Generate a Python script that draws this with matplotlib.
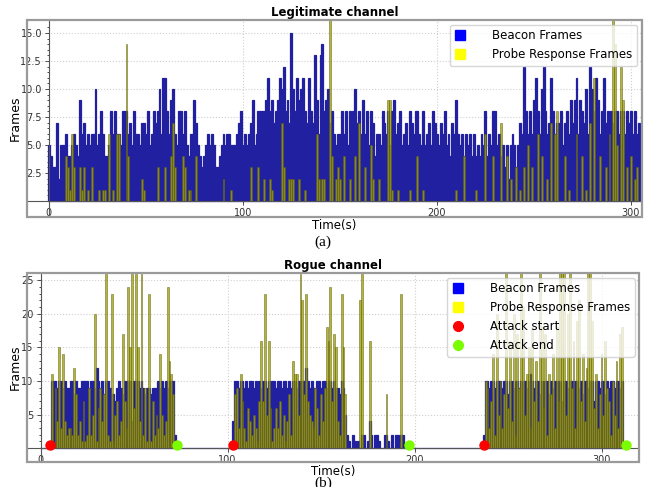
import matplotlib
matplotlib.use('Agg')
import matplotlib.pyplot as plt
from matplotlib.lines import Line2D
from matplotlib.patches import Rectangle
import numpy as np

# ---- legitimate channel (frames per second) ----
legit_beacon = [
    5,4,3,3,7,2,5,5,5,6,  4,4,5,6,5,4,9,6,7,5,  6,5,6,6,10,5,6,8,6,4,
    4,5,8,6,8,6,6,5,8,8,  8,6,7,5,8,6,6,5,7,7,  6,8,5,6,8,7,8,10,6,11,
    11,8,6,9,10,6,5,8,8,6,  8,5,4,6,6,9,7,5,4,3,  4,5,6,5,6,5,3,3,4,5,
    6,5,6,6,5,5,5,6,7,8,  5,6,5,6,7,9,5,6,8,8,  8,8,9,11,8,9,7,8,9,11,
    10,12,8,9,7,15,10,8,11,9,  10,11,8,7,11,8,7,13,9,6,  13,14,8,9,10,7,8,6,5,6,
    6,8,6,8,5,8,7,8,10,7,  8,6,9,6,8,5,8,7,4,6,  6,5,8,7,6,8,5,8,9,6,
    7,8,5,6,7,5,8,7,6,8,  8,6,5,8,5,6,7,5,8,7,  6,5,7,6,8,5,6,4,7,6,
    9,6,5,6,4,6,5,6,4,6,  4,5,4,6,5,8,4,6,5,8,  8,5,6,4,5,3,5,2,5,6,
    5,3,5,7,6,12,8,6,8,6,  9,11,8,6,10,12,8,6,7,11,  8,6,7,7,8,5,7,8,6,9,
    7,9,11,6,9,8,7,10,6,12,  10,8,11,9,6,8,11,7,8,6,  8,7,8,8,6,8,8,6,8,7,
    8,6,8,6,7,6]
legit_probe = [
    0,0,0,0,0,0,0,0,0,4,  3,1,6,3,0,0,3,1,3,0,  1,0,3,0,0,0,1,0,1,1,
    0,6,0,1,0,6,6,0,0,0,  14,4,0,0,0,0,0,0,2,1,  0,0,0,0,0,0,3,0,0,0,
    3,0,0,4,7,3,0,0,0,4,  3,0,1,1,0,0,4,0,0,0,  0,0,0,0,0,0,0,0,0,0,
    2,0,0,0,1,0,0,0,0,0,  0,0,0,0,3,0,0,0,3,0,  0,2,0,0,2,1,0,0,0,0,
    7,3,0,0,2,2,2,0,0,2,  0,0,1,0,0,0,0,0,6,2,  0,2,2,0,0,17,4,0,2,3,
    2,0,4,0,0,2,0,0,4,0,  7,0,0,3,0,0,5,2,0,0,  2,0,0,0,0,9,9,1,0,0,
    1,0,0,0,0,0,1,0,0,0,  4,0,0,1,0,0,0,0,0,0,  0,0,0,0,0,0,0,0,0,0,
    1,0,0,0,4,0,0,0,0,0,  1,0,0,0,0,6,0,0,0,4,  0,0,0,7,0,0,4,0,2,0,
    0,3,0,1,0,3,0,5,0,3,  0,0,6,0,4,0,0,2,0,7,  0,6,8,0,0,0,4,0,1,0,
    0,0,6,0,0,4,0,1,0,7,  0,11,0,0,4,0,0,3,0,6,  0,17,14,5,0,12,9,0,3,0,
    4,0,2,3,0,0]

# ---- rogue channel ----
rogue_beacon = [
    0,0,0,0,0,0,10,10,10,9,  10,10,9,10,9,9,10,10,8,10,  9,9,10,10,10,10,9,10,10,9,
    12,10,9,10,8,10,10,9,8,8,  7,9,10,9,8,10,9,10,10,4,  10,10,10,9,10,9,8,9,9,8,
    9,9,9,10,9,10,9,10,9,10,  10,10,2,0,0,0,0,0,0,0,  0,0,0,0,0,0,0,0,0,0,
    0,0,0,0,0,0,0,0,0,0,  0,0,0,4,10,10,9,10,10,9,  10,9,10,10,9,10,8,10,9,10,
    10,9,10,9,10,10,9,10,10,9,  10,10,9,10,9,10,10,9,10,9,  10,10,12,10,9,10,9,9,10,10,
    9,10,10,9,10,10,9,10,9,9,  8,10,9,5,2,1,0,2,1,0,  1,0,2,2,0,1,4,2,0,2,
    2,1,0,0,2,2,1,0,2,0,  2,2,0,2,2,0,0,0,0,0,  0,0,0,0,0,0,0,0,0,0,
    0,0,0,0,0,0,0,0,0,0,  0,0,0,0,0,0,0,0,0,0,  0,0,0,0,0,0,0,2,10,10,
    9,10,10,9,10,10,10,9,10,10,  8,10,10,9,10,10,9,10,10,10,  9,10,11,10,9,10,10,8,10,9,
    10,10,8,10,9,10,10,9,10,7,  10,10,9,10,10,8,10,10,9,10,  8,10,10,9,10,10,7,10,10,9,
    10,10,8,10,9,10,10,9,10,10,  9,10,0]
rogue_probe = [
    0,0,0,0,0,0,11,0,9,4,  15,3,14,4,2,3,3,2,12,8,  2,4,1,7,1,2,9,2,5,20,
    1,6,9,4,8,26,2,1,23,1,  5,7,2,4,17,7,3,24,15,26,  6,26,15,4,26,2,9,1,23,1,
    7,2,5,3,14,5,2,4,24,13,  11,8,0,0,0,0,0,0,0,0,  0,0,0,0,0,0,0,0,0,0,
    0,0,0,0,0,0,0,0,0,0,  0,0,0,0,8,9,3,11,7,3,  1,6,4,2,5,3,1,7,16,7,
    23,5,16,6,1,3,6,3,7,2,  5,1,4,8,2,13,11,11,5,26,  22,8,23,7,5,4,3,9,6,2,
    8,4,9,18,16,24,7,17,15,4,  2,23,15,8,0,0,0,0,0,0,  0,22,26,0,0,0,16,0,0,0,
    0,0,0,0,0,8,0,0,0,0,  0,0,0,23,0,0,0,0,0,0,  0,0,0,0,0,0,0,0,0,0,
    0,0,0,0,0,0,0,0,0,0,  0,0,0,0,0,0,0,0,0,0,  0,0,0,0,0,0,0,0,10,9,
    3,7,14,2,20,5,10,3,8,27,  6,16,4,20,2,17,9,27,21,5,  11,15,3,18,7,13,4,27,18,6,
    17,2,11,8,14,3,18,7,27,27,  27,5,20,27,9,16,3,19,22,7,  14,4,12,27,27,19,6,11,3,8,
    14,5,16,9,7,2,10,5,13,3,  17,18,0]

attack_start = [5, 103, 237]
attack_end = [73, 197, 313]

BLUE = '#2020a0'
OLIVE = '#a0a010'


def style_axes(ax, xlim, ylim, yticks, yminor, title):
    ax.set_xlim(*xlim)
    ax.set_ylim(*ylim)
    ax.spines['left'].set_position(('data', 0))
    ax.spines['bottom'].set_position(('data', 0))
    ax.spines['right'].set_visible(False)
    ax.spines['top'].set_visible(False)
    for s in ['left', 'bottom']:
        ax.spines[s].set_color('#555555')
        ax.spines[s].set_linewidth(0.8)
    ax.add_patch(Rectangle((0, 0), 1, 1, transform=ax.transAxes, fill=False,
                           ec='#9a9a9a', lw=1.6, clip_on=False, zorder=5))
    ax.set_xticks([0, 100, 200, 300])
    ax.set_yticks(yticks)
    ax.set_yticks(yminor, minor=True)
    ax.tick_params(labelsize=7, length=3, width=0.6, colors='#333333', pad=2)
    ax.tick_params(which='minor', length=1.5, width=0.5)
    ax.grid(True, ls=':', color='#cfcfcf', lw=0.8)
    ax.set_axisbelow(True)
    ax.set_title(title, fontsize=8.5, fontweight='bold', pad=3)
    ax.set_xlabel('Time(s)', fontsize=8.5)
    ax.set_ylabel('Frames', fontsize=9)
    ax.xaxis.set_label_coords(0.5, -0.012)
    ax.yaxis.set_label_coords(-0.008, 0.5)


fig = plt.figure(figsize=(6.51, 4.87), dpi=100)

# top: legitimate channel
ax1 = fig.add_axes([0.0415, 0.555, 0.9445, 0.404])
x1 = np.arange(len(legit_beacon))
ax1.bar(x1, legit_beacon, width=1.0, color=BLUE, edgecolor=BLUE, lw=0.9)
ax1.bar(x1, legit_probe, width=1.0, color=OLIVE, edgecolor='#5a5a00', lw=0.4, alpha=0.8)
style_axes(ax1, (-11.3, 305.7), (-1.4, 16.16), [2.5, 5, 7.5, 10, 12.5, 15],
           np.arange(0.5, 16, 0.5), 'Legitimate channel')
h1 = [Line2D([], [], marker='s', color='blue', ls='', markersize=7),
      Line2D([], [], marker='s', color='yellow', ls='', markersize=7)]
ax1.legend(h1, ['Beacon Frames', 'Probe Response Frames'], loc='upper right',
           fontsize=8.5, handlelength=1, handletextpad=2.2, framealpha=0.8,
           borderaxespad=0.4)

# bottom: rogue channel
ax2 = fig.add_axes([0.041, 0.0507, 0.941, 0.389])
x2 = np.arange(len(rogue_beacon))
ax2.bar(x2, rogue_beacon, width=1.0, color=BLUE, edgecolor=BLUE, lw=0.9)
ax2.bar(x2, rogue_probe, width=1.0, color=OLIVE, edgecolor='#5a5a00', lw=0.4, alpha=0.8)
ax2.plot(attack_start, [0.5] * len(attack_start), 'o', color='red', markersize=6.5,
         clip_on=False, zorder=6)
ax2.plot(attack_end, [0.5] * len(attack_end), 'o', color='lawngreen', markersize=6.5,
         clip_on=False, zorder=6)
style_axes(ax2, (-7.4, 320.2), (-2.1, 26.1), [5, 10, 15, 20, 25],
           np.arange(1, 26, 1), 'Rogue channel')
h2 = [Line2D([], [], marker='s', color='blue', ls='', markersize=7),
      Line2D([], [], marker='s', color='yellow', ls='', markersize=7),
      Line2D([], [], marker='o', color='red', ls='', markersize=7),
      Line2D([], [], marker='o', color='lawngreen', ls='', markersize=7)]
ax2.legend(h2, ['Beacon Frames', 'Probe Response Frames', 'Attack start', 'Attack end'],
           loc='upper right', fontsize=8.5, handlelength=1, handletextpad=2.2,
           framealpha=0.8, borderaxespad=0.4)

fig.text(0.496, 1 - 242 / 487, '(a)', ha='center', va='center', fontsize=11,
         family='Liberation Serif')
fig.text(0.496, 1 - 477 / 487, '(b)', ha='center', va='top', fontsize=11,
         family='Liberation Serif')

plt.savefig('out.png', dpi=100)
